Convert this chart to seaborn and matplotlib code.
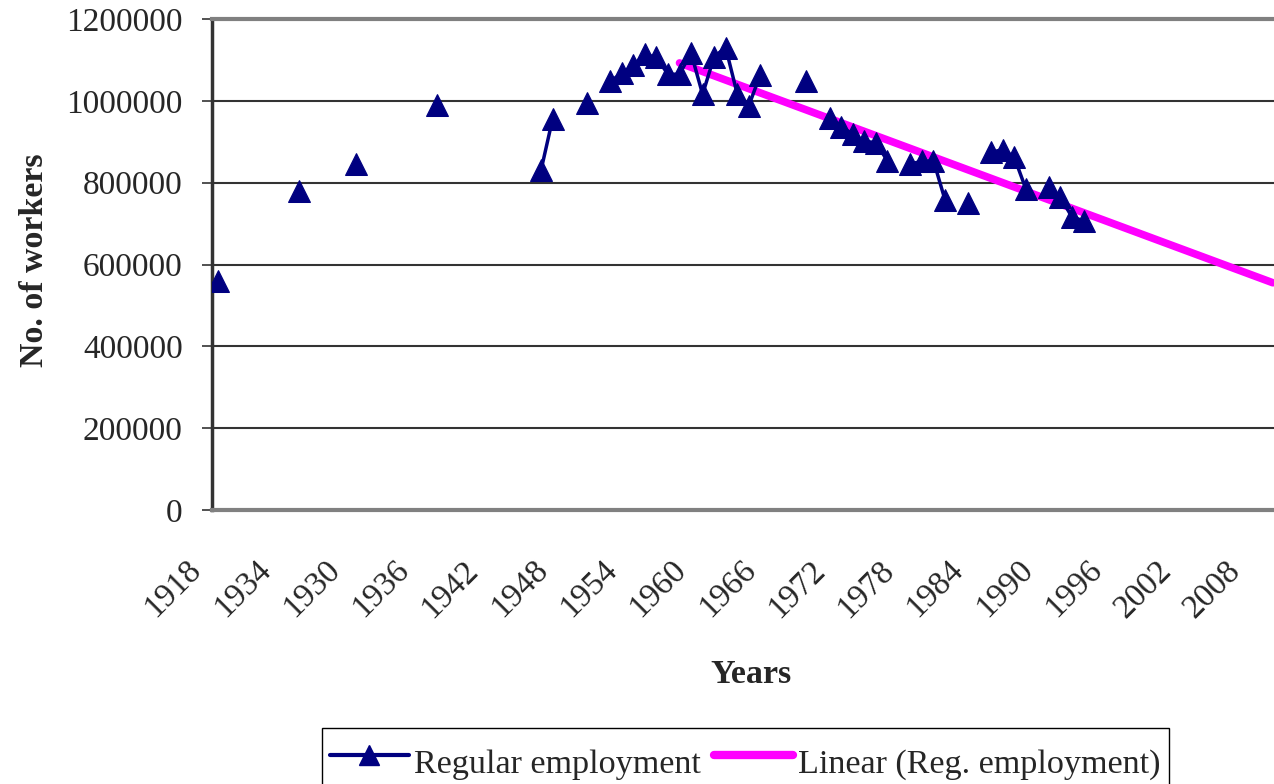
import numpy as np
import pandas as pd
import matplotlib.pyplot as plt
import matplotlib.transforms as mtransforms
import seaborn as sns
from matplotlib.lines import Line2D

# regular employment (years with no value are gaps)
years = [1918, 1925, 1930, 1937, 1946, 1947, 1950,
         1952, 1953, 1954, 1955, 1956, 1957, 1958, 1959, 1960, 1961, 1962, 1963, 1964, 1965,
         1969, 1971, 1972, 1973, 1974, 1975, 1976,
         1978, 1979, 1980, 1981, 1983,
         1985, 1986, 1987, 1988, 1990, 1991, 1992, 1993]
workers = [560000, 780000, 845000, 990000, 830000, 955000, 995000,
           1048000, 1067000, 1087000, 1114000, 1106000, 1065000, 1065000, 1117000, 1016000,
           1108000, 1130000, 1017000, 988000, 1064000,
           1049000, 959000, 937000, 919000, 901000, 898000, 854000,
           846000, 852000, 854000, 758000, 750000,
           874000, 881000, 862000, 785000, 790000, 764000, 716000, 707000]

# category labels as printed on the original axis (the "1934" is in the source)
tick_years = list(range(1918, 2009, 6))
tick_labels = ['1918', '1934', '1930', '1936', '1942', '1948', '1954', '1960',
               '1966', '1972', '1978', '1984', '1990', '1996', '2002', '2008']

trend_from = 1958
trend_to = 2009.4

df = pd.DataFrame({'year': years, 'workers': workers})
df['run'] = (df['year'].diff() != 1).cumsum()

sns.set_style('white')
plt.rcParams['font.family'] = ['Liberation Serif', 'DejaVu Serif']
plt.rcParams['font.size'] = 24

fig = plt.figure(figsize=(12.74, 7.84), dpi=100)
ax = fig.add_axes([212/1274, 1-510/784, 1-212/1274, 491/784])

# linear trend (fitted on the later part, projected forward)
fit = df[df['year'] >= trend_from]
slope, icpt = np.polyfit(fit['year'], fit['workers'], 1)
tx = np.array([trend_from, trend_to])
sns.lineplot(x=tx, y=slope*tx + icpt, color='#FF00FF', lw=5.5, ax=ax, zorder=2)

sns.lineplot(data=df, x='year', y='workers', units='run', estimator=None,
             color='#000080', lw=2.5, marker='^', markersize=15.5,
             markeredgecolor='#000080', ax=ax, legend=False, zorder=3)

ax.set_xlim(1917.5, 2009.4)
ax.set_ylim(0, 1200000)
ax.set_yticks(range(0, 1200001, 200000))
ax.set_yticklabels([str(v) for v in range(0, 1200001, 200000)])
ax.yaxis.grid(True, color='#333333', lw=1.5)
ax.set_axisbelow(True)

# year boundary ticks + rotated category labels
ax.set_xticks(np.arange(1917.5, 2010, 1))
ax.tick_params(axis='x', which='major', length=7, width=1.2, color='#333333', labelbottom=False)
ax.set_xticks(tick_years, minor=True)
ax.set_xticklabels(tick_labels, minor=True, rotation=45, ha='right', va='center',
                   rotation_mode='anchor')
ax.tick_params(axis='x', which='minor', length=0, pad=40)
offs = mtransforms.ScaledTranslation(-21/100, 0, fig.dpi_scale_trans)
for lab in ax.get_xticklabels(minor=True):
    lab.set_transform(lab.get_transform() + offs)
ax.tick_params(axis='y', length=7, width=1.2, color='#333333', pad=14, left=True)

for s in ['top', 'bottom']:
    ax.spines[s].set_color('#808080')
    ax.spines[s].set_linewidth(3)
ax.spines['left'].set_color('#333333')
ax.spines['left'].set_linewidth(2.5)
ax.spines['right'].set_visible(False)

ax.set_xlabel('Years', fontweight='bold', fontsize=24.5)
ax.set_ylabel('No. of workers', fontweight='bold', fontsize=24.5)
ax.xaxis.set_label_coords(0.5075, -0.303)
ax.yaxis.set_label_coords(-0.153, 0.509)

handles = [Line2D([], [], color='#000080', lw=3, marker='^', markersize=15),
           Line2D([], [], color='#FF00FF', lw=6)]
fig.legend(handles, ['Regular employment', 'Linear (Reg. employment)'],
           loc='upper center', bbox_to_anchor=(0.585, 1-728/784), ncol=2,
           frameon=True, fancybox=False, edgecolor='black', framealpha=1,
           handlelength=2.3, handleheight=1.9, handletextpad=0.15, columnspacing=0.4,
           borderpad=0.25, borderaxespad=0, fontsize=24.6)

fig.savefig('out.png', dpi=100)
